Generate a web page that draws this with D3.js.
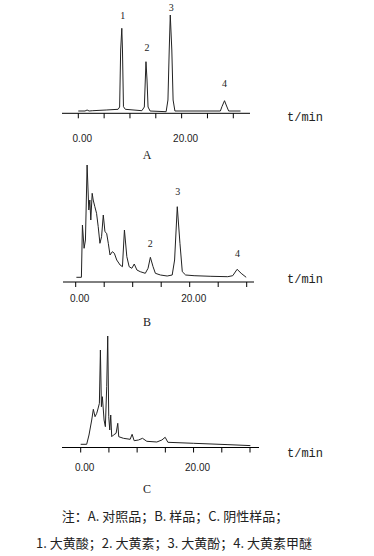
<!DOCTYPE html>
<html>
<meta charset="utf-8">
<style>
body { margin: 0; background: #fff; }
.trace { fill: none; stroke: #222; stroke-width: 1; stroke-linejoin: round; }
.axis line, .axis path { stroke: #000; }
.tick-label { font-family: "Liberation Sans", Arial, sans-serif; font-size: 10px; fill: #222; }
.unit { font-family: "Liberation Mono", monospace; font-size: 12px; fill: #222; }
.panel-name { font-family: "Liberation Serif", serif; font-size: 12px; fill: #222; }
.peak-label { font-family: "Liberation Serif", serif; font-size: 10px; fill: #222; }
.note { font-family: "Noto Sans CJK SC", sans-serif; font-size: 13px; fill: #222; }
</style>
<body>
<svg width="374" height="556"></svg>
<script src="https://cdn.jsdelivr.net/npm/d3@7"></script>
<script>

// retention time (min) / detector signal
var timeA = [0, 1.3, 1.7, 2.1, 2.8, 5.4, 7.7, 8.0, 8.2, 8.42, 8.55, 8.74, 9.1, 12.3, 12.78, 12.97, 13.1, 13.3, 13.5, 13.9, 17.0, 17.35, 17.6, 17.8, 18.1, 18.35, 18.7, 27.5, 27.8, 28.3, 28.7, 29.1, 31.4];
var signalA = [0, 0, 1, 0, 0.3, 1, 1.7, 4, 61, 82.7, 61, 4.3, 1.7, 0.3, 4, 31, 49.3, 31, 4, 0, -0.7, 11, 61, 96, 61, 11, 0, 0, 4.3, 10.3, 5, 0, 0];

var timeB = [0.12, 1.0, 1.18, 1.47, 1.71, 2.0, 2.3, 2.48, 2.65, 2.89, 3.07, 3.36, 3.66, 3.95, 4.25, 4.54, 4.84, 5.13, 5.43, 5.72, 6.02, 6.43, 6.78, 7.2, 7.79, 8.2, 8.55, 8.97, 9.38, 9.85, 10.27, 10.74, 11.33, 12.21, 12.69, 13.1, 13.57, 13.98, 14.87, 16.05, 16.93, 17.35, 17.82, 18.29, 18.7, 19.29, 20.77, 23.72, 26.67, 27.55, 28.32, 29.03, 29.91];
var signalB = [0, 0, 52.3, 29, 37.3, 112.3, 67.3, 77.3, 57.3, 84, 77.3, 70.6, 64, 50.6, 34, 40.6, 62.3, 45.6, 44, 34, 22.3, 25.6, 24, 17.3, 12.3, 10.6, 47.3, 20.6, 10.6, 9, 13.3, 7.3, 5.6, 4, 9, 20, 10.6, 4, 2.3, 1.3, 2.3, 17.3, 70.6, 34, 5.6, 2.3, 1.6, 1, 0.6, 1.6, 8, 4, 0];

var timeC = [0, 1.06, 1.47, 1.95, 2.24, 2.54, 2.84, 3.01, 3.31, 3.49, 3.67, 3.84, 4.14, 4.37, 4.61, 4.79, 4.97, 5.15, 5.32, 5.5, 5.8, 6.27, 6.57, 6.74, 7.57, 8.76, 9.11, 9.47, 10.24, 10.95, 11.72, 13.49, 14.38, 14.97, 15.45, 20.0, 25.93, 30.07];
var signalC = [0, 0, 9.3, 24.3, 35, 27.6, 31, 34.3, 41, 94.3, 37.6, 47.6, 24.3, 17.6, 57.6, 108.3, 27.6, 14.3, 29.3, 7.6, 9.3, 11, 21, 7.6, 6, 5, 10, 3.6, 4.3, 6, 3, 2.3, 4.3, 7, 2, 1, -0.3, -1.3];

var tickValues = [0, 5, 10, 15, 20, 25, 30];
var tickLabels = {0: "0.00", 20: "20.00"};

// peak labels: number, retention time, signal where the label sits
var peaksA = [["1", 8.6, 92], ["2", 13.3, 60], ["3", 18.0, 100], ["4", 28.3, 24]];
var peaksB = [["2", 13.1, 30], ["3", 17.9, 82], ["4", 28.4, 20]];

var noteLines = ["注：A. 对照品；B. 样品；C. 阴性样品；", "1. 大黄酸；2. 大黄素；3. 大黄酚；4. 大黄素甲醚"];

var svg = d3.select("svg");

var panels = [
  { name: "A", time: timeA, signal: signalA, peaks: peaksA,
    x0: 78.3, x30: 233.3, axisFrom: 62, axisTo: 250, axisY: 113.3, base: 111, labelGap: 29, nameY: 159, unitY: 121 },
  { name: "B", time: timeB, signal: signalB, peaks: peaksB,
    x0: 75.7, x30: 246.7, axisFrom: 63, axisTo: 254, axisY: 282, base: 277.3, labelGap: 20, nameY: 326, unitY: 283 },
  { name: "C", time: timeC, signal: signalC, peaks: [],
    x0: 80.7, x30: 250, axisFrom: 62, axisTo: 259, axisY: 447.5, base: 444.3, labelGap: 23.5, nameY: 493, unitY: 457 }
];

panels.forEach(function(p) {
  var x = d3.scaleLinear().domain([0, 30]).range([p.x0, p.x30]);
  var y = d3.scaleLinear().domain([0, 100]).range([p.base, p.base - 100]);
  var g = svg.append("g");

  // axis: horizontal line with ticks hanging below
  g.append("line")
      .attr("x1", p.axisFrom).attr("x2", p.axisTo)
      .attr("y1", p.axisY).attr("y2", p.axisY)
      .attr("stroke", "#000");
  g.selectAll(".tk")
    .data(tickValues)
    .enter().append("line")
      .attr("x1", function(d) { return x(d); })
      .attr("x2", function(d) { return x(d); })
      .attr("y1", p.axisY).attr("y2", p.axisY + 5)
      .attr("stroke", "#000");
  g.selectAll(".tick-label")
    .data(tickValues.filter(function(d) { return tickLabels[d]; }))
    .enter().append("text")
      .attr("class", "tick-label")
      .attr("x", function(d) { return x(d) + 4; })
      .attr("y", p.axisY + p.labelGap)
      .attr("text-anchor", "middle")
      .text(function(d) { return tickLabels[d]; });

  var line = d3.line()
      .x(function(d, i) { return x(p.time[i]); })
      .y(function(d) { return y(d); });
  g.append("path")
      .attr("class", "trace")
      .attr("d", line(p.signal));

  g.selectAll(".peak-label")
    .data(p.peaks)
    .enter().append("text")
      .attr("class", "peak-label")
      .attr("x", function(d) { return x(d[1]); })
      .attr("y", function(d) { return y(d[2]); })
      .attr("text-anchor", "middle")
      .text(function(d) { return d[0]; });

  g.append("text")
      .attr("class", "unit")
      .attr("x", 287)
      .attr("y", p.unitY)
      .text("t/min");

  g.append("text")
      .attr("class", "panel-name")
      .attr("x", 147)
      .attr("y", p.nameY)
      .attr("text-anchor", "middle")
      .text(p.name);
});

svg.selectAll(".note")
  .data(noteLines)
  .enter().append("text")
    .attr("class", "note")
    .attr("x", function(d, i) { return i ? 174 : 175; })
    .attr("y", function(d, i) { return 521 + i * 27; })
    .attr("text-anchor", "middle")
    .text(function(d) { return d; });

</script>
</body>
</html>
